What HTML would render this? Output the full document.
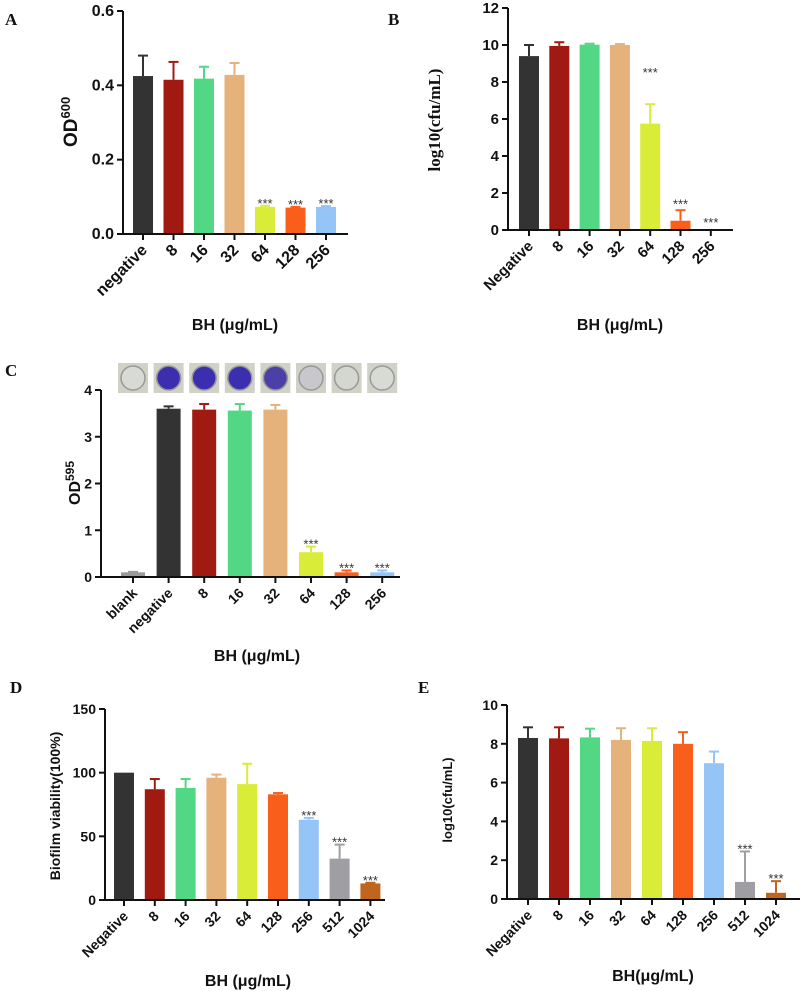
<!DOCTYPE html>
<html><head><meta charset="utf-8"><style>
body{margin:0;background:#fff}
svg{display:block}
text{font-family:"Liberation Sans",Arial,sans-serif;font-weight:bold}
text.serif{font-family:"Liberation Serif",serif}
</style></head><body>
<svg id="fig" width="800" height="991" viewBox="0 0 800 991" xmlns="http://www.w3.org/2000/svg"></svg>
<script>
const aCats=["negative","8","16","32","64","128","256"];
const aVals=[0.425,0.415,0.418,0.428,0.073,0.071,0.073];
const aErr=[0.48,0.463,0.45,0.46,0.076,0.073,0.075];
const aSig=["","","","","***","***","***"];
const aTicks=[0,0.2,0.4,0.6];
const aTickLabels=["0.0","0.2","0.4","0.6"];

const bCats=["Negative","8","16","32","64","128","256"];
const bVals=[9.4,9.95,10.02,10.0,5.75,0.5,0];
const bErr=[10.0,10.15,10.07,10.05,6.8,1.07,0];
const bSig=["","","","","***","***","***"];
const bSigY=[0,0,0,0,8.7,1.6,0.6];
const bTicks=[0,2,4,6,8,10,12];

const cCats=["blank","negative","8","16","32","64","128","256"];
const cVals=[0.1,3.6,3.58,3.56,3.58,0.53,0.1,0.1];
const cErr=[0.11,3.65,3.7,3.7,3.68,0.65,0.14,0.14];
const cSig=["","","","","","***","***","***"];
const cTicks=[0,1,2,3,4];

const dCats=["Negative","8","16","32","64","128","256","512","1024"];
const dVals=[100,87,88,96,91,83,63,32.5,13];
const dErr=[100,95,95,98.5,107,84,64.5,43.5,13.5];
const dSig=["","","","","","","***","***","***"];
const dTicks=[0,50,100,150];

const eCats=["Negative","8","16","32","64","128","256","512","1024"];
const eVals=[8.3,8.28,8.33,8.2,8.15,8.0,7.0,0.88,0.32];
const eErr=[8.85,8.85,8.78,8.8,8.8,8.6,7.6,2.45,0.92];
const eSig=["","","","","","","","***","***"];
const eTicks=[0,2,4,6,8,10];

const col7=["#333333","#a11a12","#52d884","#e4b27a","#d9ec38","#f95f1a","#94c5f6"];
const col9=col7.concat(["#9e9ea3","#c0651e"]);
const colC=["#9a9a9a"].concat(col7);

const NS="http://www.w3.org/2000/svg";
const svg=document.getElementById('fig');
function el(tag,attrs,parent,txt){const e=document.createElementNS(NS,tag);for(const k in attrs)e.setAttribute(k,attrs[k]);if(txt!==undefined)e.textContent=txt;(parent||svg).appendChild(e);return e;}

function panel(p){
  const g=el('g',{});
  
  
  const ys=v=>p.y0-(v-p.min)/(p.max-p.min)*(p.y0-p.y1);
  const xs=i=>p.x0+p.first+i*p.step;
  p.vals.forEach((v,i)=>{
    const cx=xs(i),c=p.colors[i];
    if(p.err[i]>v){
      const ln=el('line',{x1:cx,x2:cx,y1:ys(v),y2:ys(p.err[i]),stroke:c,'stroke-width':2},g);
      
      
      el('line',{x1:cx-5,x2:cx+5,y1:ys(p.err[i]),y2:ys(p.err[i]),stroke:c,'stroke-width':2},g);
    }
    const h=ys(p.min)-ys(v);
    if(h>0){
      const r=el('rect',{x:cx-p.bw/2,y:ys(v),width:p.bw,height:h,fill:c},g);
      
      
    }
    if(p.sig[i]){
      const sy=p.sigY?ys(p.sigY[i]):ys(p.err[i])-6;
      const t=el('text',{x:cx,y:sy+8,'text-anchor':'middle','font-size':13,'font-weight':'normal',fill:'#333',style:'font-weight:normal'},g,p.sig[i]);
      
      
    }
    el('line',{x1:cx,x2:cx,y1:p.y0,y2:p.y0+6,stroke:'#111','stroke-width':2},g);
    const tl=el('text',{x:0,y:0,'text-anchor':'end','font-size':p.fs,fill:'#111',transform:`translate(${cx+5},${p.y0+17}) rotate(-45)`},g,p.cats[i]);
    
    
  });
  const ya=el('line',{x1:p.x0,x2:p.x0,y1:p.y1,y2:p.y0+1,stroke:'#111','stroke-width':2},g);
  
  
  const xa=el('line',{x1:p.x0-1,x2:p.xend,y1:p.y0,y2:p.y0,stroke:'#111','stroke-width':2},g);
  
  
  p.ticks.forEach((t,i)=>{
    el('line',{x1:p.x0-6,x2:p.x0,y1:ys(t),y2:ys(t),stroke:'#111','stroke-width':2},g);
    const lb=el('text',{x:p.x0-9,y:ys(t)+5,'text-anchor':'end','font-size':p.fs,fill:'#111'},g,p.tickLabels?p.tickLabels[i]:String(t));
    
    
  });
}

panel({name:'panel-a',cats:aCats,vals:aVals,err:aErr,sig:aSig,ticks:aTicks,tickLabels:aTickLabels,min:0,max:0.6,x0:123,y0:234,y1:11,xend:348,first:20,step:30.5,bw:20,colors:col7,fs:16});
panel({name:'panel-b',cats:bCats,vals:bVals,err:bErr,sig:bSig,sigY:bSigY,ticks:bTicks,min:0,max:12,x0:508,y0:230,y1:8,xend:733,first:21,step:30.3,bw:20,colors:col7,fs:15});
panel({name:'panel-c',cats:cCats,vals:cVals,err:cErr,sig:cSig,ticks:cTicks,min:0,max:4,x0:101,y0:577,y1:390,xend:400,first:32,step:35.6,bw:24,colors:colC,fs:14});
panel({name:'panel-d',cats:dCats,vals:dVals,err:dErr,sig:dSig,ticks:dTicks,min:0,max:150,x0:105,y0:900,y1:709,xend:385,first:19,step:30.8,bw:20,colors:col9,fs:14});
panel({name:'panel-e',cats:eCats,vals:eVals,err:eErr,sig:eSig,ticks:eTicks,min:0,max:10,x0:507,y0:899,y1:705,xend:800,first:21,step:31,bw:20,colors:col9,fs:14});

const wellFill=["#d8dad6","#3b2fb0","#3b2fb0","#3b2fb0","#4a40a8","#c8c8cc","#d4d6d0","#d8dad6"];
cCats.forEach((c,i)=>{
  const cx=101+32+i*35.6;
  const w=el('g',{});
  
  
  el('rect',{x:cx-15,y:363,width:30,height:30,fill:'#d0d2c8'},w);
  el('circle',{cx:cx,cy:378,r:12,fill:wellFill[i],stroke:'#999','stroke-width':1.5},w);
});

function label(x,y,txt,name,opts){
  const t=el('text',Object.assign({x:x,y:y,fill:'#111'},opts||{}),svg,txt);
  
  
  return t;
}
const serif={'class':'serif','font-size':17};
label(5,25,'A','panel-label-a',serif);
label(388,25,'B','panel-label-b',serif);
label(5,376,'C','panel-label-c',serif);
label(10,693,'D','panel-label-d',serif);
label(418,693,'E','panel-label-e',serif);

const ya=label(0,0,'OD','y-axis-title-a',{'font-size':19,transform:'translate(77,147) rotate(-90)'});
el('tspan',{dy:-7,'font-size':13},ya,'600');
label(0,0,'log10(cfu/mL)','y-axis-title-b',{'class':'serif','font-size':17,'text-anchor':'middle',transform:'translate(440,120) rotate(-90)'});
const yc=label(0,0,'OD','y-axis-title-c',{'font-size':16,transform:'translate(80,505) rotate(-90)'});
el('tspan',{dy:-6,'font-size':12},yc,'595');
label(0,0,'Biofilm viability(100%)','y-axis-title-d',{'font-size':14,'text-anchor':'middle',transform:'translate(60,806) rotate(-90)'});
label(0,0,'log10(cfu/mL)','y-axis-title-e',{'font-size':13,'text-anchor':'middle',transform:'translate(452,800) rotate(-90)'});

label(235,330,'BH (μg/mL)','x-axis-title-a',{'font-size':16,'text-anchor':'middle'});
label(620,330,'BH (μg/mL)','x-axis-title-b',{'font-size':16,'text-anchor':'middle'});
label(257,661,'BH (μg/mL)','x-axis-title-c',{'font-size':16,'text-anchor':'middle'});
label(248,986,'BH (μg/mL)','x-axis-title-d',{'font-size':16,'text-anchor':'middle'});
label(653,981,'BH(μg/mL)','x-axis-title-e',{'font-size':16,'text-anchor':'middle'});
</script>
</body></html>
